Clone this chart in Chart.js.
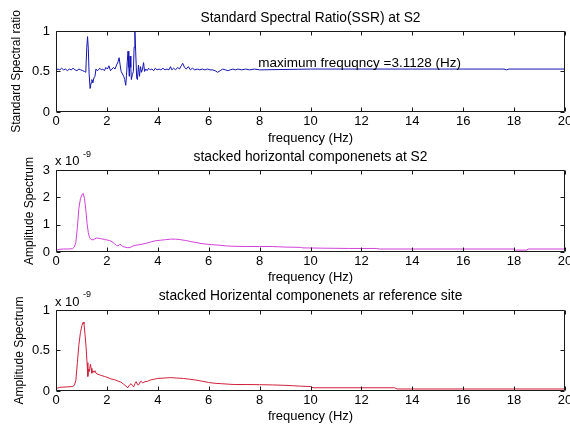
<!DOCTYPE html>
<html>
<head>
<meta charset="utf-8">
<script src="https://cdn.jsdelivr.net/npm/chart.js@4"></script>
<style>
  html, body { margin:0; padding:0; background:#fff; }
  #wrap { position:relative; width:570px; height:430px; background:#fff; overflow:hidden; }
  canvas { position:absolute; left:0; }
</style>
</head>
<body>
<div id="wrap">
  <canvas id="c1" width="570" height="148" style="top:0px"></canvas>
  <canvas id="c2" width="570" height="143" style="top:143px"></canvas>
  <canvas id="c3" width="570" height="146" style="top:284px"></canvas>
</div>
<script>
// ---------- DATA ----------
const xTicksHz = [0, 2, 4, 6, 8, 10, 12, 14, 16, 18, 20];

// Panel 1: Standard Spectral Ratio (SSR)
const freqSSR = [0.00,0.08,0.15,0.22,0.30,0.37,0.45,0.52,0.60,0.67,0.75,0.82,0.90,0.97,1.05,1.12,1.17,1.21,1.24,1.27,1.30,1.34,1.38,1.41,1.45,1.49,1.53,1.57,1.62,1.67,1.72,1.78,1.84,1.90,1.96,2.02,2.08,2.14,2.20,2.26,2.32,2.38,2.44,2.48,2.52,2.56,2.61,2.66,2.70,2.74,2.77,2.80,2.83,2.86,2.88,2.91,2.94,2.96,3.00,3.04,3.07,3.10,3.13,3.17,3.20,3.24,3.28,3.32,3.36,3.40,3.44,3.48,3.53,3.58,3.64,3.70,3.77,3.84,3.90,3.97,4.05,4.12,4.20,4.28,4.36,4.44,4.50,4.55,4.62,4.70,4.78,4.85,4.92,4.98,5.05,5.12,5.20,5.28,5.36,5.45,5.55,5.65,5.75,5.85,5.95,6.05,6.15,6.25,6.35,6.45,6.55,6.65,6.75,6.85,6.95,7.05,7.15,7.30,7.45,7.60,7.80,8.00,10.0,12.0,14.0,16.0,17.6,17.7,17.8,20.0];
const ssr     = [0.52,0.53,0.52,0.54,0.52,0.53,0.51,0.53,0.52,0.54,0.52,0.51,0.53,0.52,0.51,0.50,0.49,0.80,0.93,0.78,0.48,0.29,0.36,0.40,0.36,0.42,0.44,0.53,0.51,0.52,0.54,0.52,0.53,0.51,0.55,0.53,0.57,0.51,0.53,0.55,0.53,0.58,0.62,0.67,0.58,0.50,0.47,0.44,0.40,0.33,0.45,0.62,0.75,0.55,0.44,0.69,0.55,0.40,0.46,0.50,0.80,1.00,0.75,0.42,0.40,0.58,0.44,0.56,0.49,0.53,0.61,0.50,0.53,0.51,0.54,0.52,0.53,0.51,0.54,0.52,0.53,0.52,0.54,0.52,0.53,0.52,0.56,0.52,0.54,0.52,0.55,0.53,0.57,0.60,0.55,0.53,0.56,0.52,0.54,0.52,0.53,0.52,0.53,0.52,0.53,0.52,0.52,0.51,0.49,0.51,0.53,0.52,0.51,0.52,0.53,0.52,0.53,0.52,0.53,0.52,0.53,0.52,0.53,0.53,0.53,0.53,0.53,0.52,0.53,0.53];

// Panel 2: stacked horizontal components at S2 (x 1e-9)
const freqS2 = [0.00,0.05,0.15,0.30,0.50,0.65,0.72,0.78,0.84,0.90,0.96,1.02,1.07,1.12,1.17,1.22,1.27,1.32,1.38,1.45,1.52,1.60,1.70,1.80,1.90,2.00,2.10,2.20,2.30,2.38,2.44,2.50,2.56,2.62,2.70,2.80,2.90,3.00,3.15,3.30,3.50,3.70,3.90,4.10,4.30,4.50,4.70,4.90,5.10,5.30,5.50,5.70,5.90,6.10,6.40,6.70,7.00,7.50,8.00,8.50,9.00,9.60,9.70,10.5,11.5,12.6,12.7,14.0,16.0,18.0,18.05,18.5,18.55,20.0];
const ampS2  = [0.03,0.08,0.10,0.11,0.11,0.12,0.18,0.35,0.90,1.60,1.95,2.10,2.14,1.95,1.55,1.05,0.70,0.52,0.46,0.44,0.48,0.51,0.50,0.48,0.46,0.44,0.42,0.38,0.30,0.24,0.22,0.28,0.26,0.20,0.18,0.16,0.16,0.21,0.25,0.27,0.31,0.36,0.41,0.43,0.45,0.47,0.47,0.45,0.42,0.38,0.35,0.31,0.29,0.27,0.25,0.22,0.21,0.20,0.20,0.20,0.18,0.17,0.15,0.14,0.13,0.13,0.11,0.11,0.11,0.11,0.07,0.07,0.11,0.11];

// Panel 3: stacked horizontal components at reference site (x 1e-9)
const freqRef = [0.00,0.05,0.15,0.40,0.65,0.72,0.78,0.84,0.90,0.96,1.02,1.07,1.10,1.14,1.18,1.22,1.25,1.28,1.31,1.35,1.38,1.41,1.45,1.49,1.53,1.57,1.62,1.70,1.80,1.90,2.00,2.15,2.30,2.45,2.55,2.65,2.75,2.82,2.88,2.95,3.00,3.05,3.10,3.15,3.20,3.25,3.30,3.35,3.40,3.50,3.60,3.70,3.85,4.00,4.25,4.50,4.75,5.00,5.25,5.50,5.75,6.00,6.25,6.50,7.00,7.50,8.00,8.50,9.00,9.30,9.60,10.0,10.1,12.0,13.3,13.4,20.0];
const ampRef  = [0.02,0.035,0.045,0.05,0.055,0.07,0.13,0.35,0.57,0.72,0.81,0.85,0.83,0.70,0.55,0.35,0.18,0.27,0.24,0.33,0.28,0.22,0.25,0.23,0.25,0.22,0.21,0.20,0.19,0.18,0.17,0.15,0.14,0.12,0.11,0.085,0.06,0.04,0.07,0.09,0.07,0.05,0.09,0.115,0.08,0.075,0.11,0.12,0.10,0.115,0.12,0.135,0.145,0.155,0.16,0.165,0.16,0.155,0.145,0.135,0.12,0.105,0.095,0.09,0.08,0.08,0.078,0.075,0.07,0.065,0.06,0.055,0.04,0.04,0.04,0.025,0.025];

const titles = [
  'Standard Spectral Ratio(SSR) at S2',
  'stacked horizontal componenets at S2',
  'stacked Horizental componenets ar reference site'
];
const yTitles = ['Standard Spectral ratio', 'Amplitude Spectrum', 'Amplitude Spectrum'];
const xTitle = 'frequency (Hz)';
const annotationText = 'maximum frequqncy =3.1128 (Hz)';

// ---------- RENDERING ----------
const FONT = "Arial, 'Liberation Sans', Helvetica, sans-serif";

const matlabAxes = {
  id: 'matlabAxes',
  afterDatasetsDraw(chart, args, opts) {
    const {ctx, chartArea: a} = chart;
    const xs = chart.scales.x, ys = chart.scales.y;
    ctx.save();
    ctx.strokeStyle = '#1a1a1a';
    ctx.lineWidth = 1;
    const L = Math.round(a.left) + 0.5, R = Math.round(a.right) - 0.5;
    const T = Math.round(a.top) + 0.5, B = Math.round(a.bottom) - 0.5;
    ctx.beginPath();
    ctx.rect(L, T, R - L, B - T);
    xs.ticks.forEach(t => {
      const p = Math.round(xs.getPixelForValue(t.value)) + 0.5;
      ctx.moveTo(p, B); ctx.lineTo(p, B - 4);
      ctx.moveTo(p, T); ctx.lineTo(p, T + 4);
    });
    ys.ticks.forEach(t => {
      const p = Math.round(ys.getPixelForValue(t.value)) + 0.5;
      ctx.moveTo(L, p); ctx.lineTo(L + 4, p);
      ctx.moveTo(R, p); ctx.lineTo(R - 4, p);
    });
    ctx.stroke();
    (opts.texts || []).forEach(tx => {
      ctx.font = tx.font;
      ctx.fillStyle = tx.color || '#000';
      ctx.textAlign = tx.align || 'left';
      ctx.textBaseline = 'middle';
      const x = tx.xv !== undefined ? xs.getPixelForValue(tx.xv) : tx.x;
      const y = tx.yv !== undefined ? ys.getPixelForValue(tx.yv) : tx.y;
      ctx.fillText(tx.text, x, y);
    });
    ctx.restore();
  }
};

function pts(xa, ya) { return xa.map((x, i) => ({x: x, y: ya[i]})); }

function makeChart(id, cfg) {
  const H = document.getElementById(id).height;
  return new Chart(document.getElementById(id), {
    type: 'line',
    data: {
      datasets: [{
        data: pts(cfg.xs, cfg.ys),
        borderColor: cfg.color,
        borderWidth: 1,
        pointRadius: 0,
        tension: 0,
        fill: false
      }]
    },
    options: {
      responsive: false,
      animation: false,
      devicePixelRatio: 1,
      layout: { padding: { left: 0, right: 5, top: 0, bottom: 0 } },
      plugins: {
        legend: { display: false },
        tooltip: { enabled: false },
        title: {
          display: true,
          fullSize: false,
          text: cfg.title,
          color: '#000',
          font: { family: FONT, size: 13.8, weight: 'normal', lineHeight: 1.2 },
          padding: { top: cfg.titlePadTop, bottom: cfg.titlePadBottom }
        },
        matlabAxes: { texts: cfg.texts || [] }
      },
      scales: {
        x: {
          type: 'linear',
          min: 0, max: 20,
          afterBuildTicks: s => { s.ticks = xTicksHz.map(v => ({value: v})); },
          ticks: { color: '#000', padding: 2, font: { family: FONT, size: 13 }, maxRotation: 0, autoSkip: false,
                   callback: v => String(v) },
          grid: { display: false, drawTicks: false },
          border: { display: false },
          title: {
            display: true, text: xTitle, color: '#000',
            font: { family: FONT, size: 13, lineHeight: 1.2 },
            padding: { top: 0, bottom: cfg.xTitlePadBottom }
          },
          afterFit: s => { s.height = H - cfg.areaBottom; s.paddingLeft = 0; s.paddingRight = 0; }
        },
        y: {
          type: 'linear',
          min: cfg.yMin, max: cfg.yMax,
          afterBuildTicks: s => { s.ticks = cfg.yTicks.map(v => ({value: v})); },
          ticks: { color: '#000', padding: 6, font: { family: FONT, size: 13 },
                   callback: v => String(v) },
          grid: { display: false, drawTicks: false },
          border: { display: false },
          title: {
            display: true, text: cfg.yTitle, color: '#000',
            font: { family: FONT, size: 12, lineHeight: 1.2 },
            padding: { top: cfg.yTitlePadTop, bottom: 0 }
          },
          afterFit: s => { s.width = 56; s.paddingTop = 0; s.paddingBottom = 0; }
        }
      }
    },
    plugins: [matlabAxes]
  });
}

const ssrTicks = [0, 0.5, 1];
const s2Ticks = [0, 1, 2, 3];
const refTicks = [0, 0.5, 1];

makeChart('c1', {
  xs: freqSSR, ys: ssr, color: '#1414b0', title: titles[0], yTitle: yTitles[0],
  yMin: 0, yMax: 1, yTicks: ssrTicks,
  titlePadTop: 9.7, titlePadBottom: 4.7, areaBottom: 112, xTitlePadBottom: 2.2, yTitlePadTop: 9.2,
  texts: [{ text: annotationText, xv: 7.95, yv: 0.6, font: '13.5px ' + FONT }]
});
makeChart('c2', {
  xs: freqS2, ys: ampS2, color: '#d040d8', title: titles[1], yTitle: yTitles[1],
  yMin: 0, yMax: 3, yTicks: s2Ticks,
  titlePadTop: 5.7, titlePadBottom: 4.7, areaBottom: 109, xTitlePadBottom: 1.2, yTitlePadTop: 22.2,
  texts: [
    { text: 'x 10', x: 55, y: 18, font: '13px ' + FONT },
    { text: '-9', x: 83, y: 11.5, font: '9px ' + FONT }
  ]
});
makeChart('c3', {
  xs: freqRef, ys: ampRef, color: '#d0203a', title: titles[2], yTitle: yTitles[2],
  yMin: 0, yMax: 1, yTicks: refTicks,
  titlePadTop: 3.7, titlePadBottom: 5.7, areaBottom: 107, xTitlePadBottom: 6.2, yTitlePadTop: 12.2,
  texts: [
    { text: 'x 10', x: 55, y: 18.5, font: '13px ' + FONT },
    { text: '-9', x: 83, y: 11, font: '9px ' + FONT }
  ]
});
</script>
</body>
</html>
